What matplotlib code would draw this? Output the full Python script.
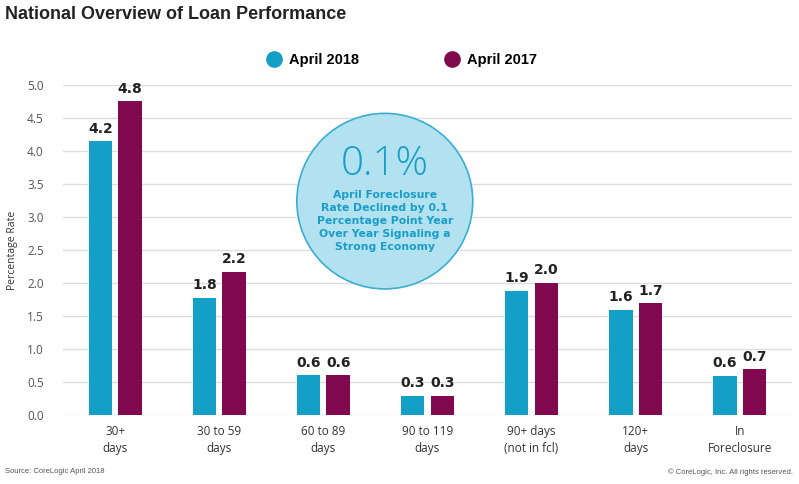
import numpy as np
import matplotlib.pyplot as plt
from matplotlib.patches import Ellipse
from matplotlib.lines import Line2D

categories = ['30+\ndays', '30 to 59\ndays', '60 to 89\ndays', '90 to 119\ndays',
              '90+ days\n(not in fcl)', '120+\ndays', 'In\nForeclosure']
apr_2018 = [4.15, 1.78, 0.60, 0.29, 1.88, 1.59, 0.59]
apr_2017 = [4.75, 2.17, 0.60, 0.29, 2.00, 1.69, 0.69]
labels_2018 = ['4.2', '1.8', '0.6', '0.3', '1.9', '1.6', '0.6']
labels_2017 = ['4.8', '2.2', '0.6', '0.3', '2.0', '1.7', '0.7']
yticks = [0.0, 0.5, 1.0, 1.5, 2.0, 2.5, 3.0, 3.5, 4.0, 4.5, 5.0]

c18 = '#149fc6'
c17 = '#80094f'

fig = plt.figure(figsize=(7.99, 4.84), dpi=100)
ax = fig.add_axes([0.079, 0.1426, 0.912, 0.6818])

x = np.arange(len(categories))
w = 0.225
off = 0.142
b1 = ax.bar(x - off, apr_2018, w, color=c18, zorder=3)
b2 = ax.bar(x + off, apr_2017, w, color=c17, zorder=3)

for bars, labs in ((b1, labels_2018), (b2, labels_2017)):
    for r, lab in zip(bars, labs):
        ax.annotate(lab, (r.get_x() + r.get_width() / 2, r.get_height()),
                    xytext=(0, 4), textcoords='offset points', ha='center', va='bottom',
                    fontsize=10, fontweight='bold', color='#222222', family='DejaVu Sans',
                    annotation_clip=False)

ax.set_xlim(-0.5, 6.5)
ax.set_ylim(0, 5.0)
ax.set_yticks(yticks)
ax.set_yticklabels(['%.1f' % t for t in yticks], fontsize=8.5, color='#555555', family='Open Sans')
ax.set_xticks(x)
ax.set_xticklabels(categories, fontsize=8.5, color='#333333', family='Open Sans', linespacing=1.4)
ax.tick_params(length=0, pad=7)
ax.tick_params(axis='y', pad=14)
ax.grid(axis='y', color='#dddddd', linewidth=1, zorder=0)
for s in ax.spines.values():
    s.set_visible(False)
ax.set_ylabel('Percentage Rate', fontsize=7.5, color='#333333', family='Open Sans')
ax.yaxis.set_label_coords(-0.062, 0.5)

# callout bubble
circ = Ellipse((2.59, 3.24), 1.69, 2.66, facecolor='#b2e1ef', edgecolor='#3aaed3',
               linewidth=1.2, zorder=4, clip_on=False)
ax.add_patch(circ)
ax.text(2.59, 3.79, '0.1%', ha='center', va='center', fontsize=29, color='#1a9dc8',
        family='Open Sans', fontweight='light', zorder=5)
ax.text(2.59, 2.94, 'April Foreclosure\nRate Declined by 0.1\nPercentage Point Year\nOver Year Signaling a\nStrong Economy',
        ha='center', va='center', fontsize=7.8, color='#1a9dc8', fontweight='bold',
        family='DejaVu Sans', linespacing=1.4, zorder=5)

fig.text(0.006, 0.971, 'National Overview of Loan Performance', fontsize=13, fontweight='bold',
         color='#222222', family='Liberation Sans', va='center', ha='left')

h = [Line2D([], [], marker='o', linestyle='', markersize=11, color=c18),
     Line2D([], [], marker='o', linestyle='', markersize=11, color=c17)]
fig.legend(handles=h, labels=['April 2018', 'April 2017'], loc='center',
           bbox_to_anchor=(0.503, 0.876), ncol=2, frameon=False, handlelength=1.0,
           columnspacing=5.9, handletextpad=0.5,
           prop={'family': 'Liberation Sans', 'weight': 'bold', 'size': 10.5})

fig.text(0.006, 0.025, 'Source: CoreLogic April 2018', fontsize=5.5, color='#555555',
         family='Liberation Sans', va='center', ha='left')
fig.text(0.993, 0.025, '\u00a9 CoreLogic, Inc. All rights reserved.', fontsize=5.5, color='#555555',
         family='Liberation Sans', va='center', ha='right')

fig.savefig('out.png', dpi=100)
